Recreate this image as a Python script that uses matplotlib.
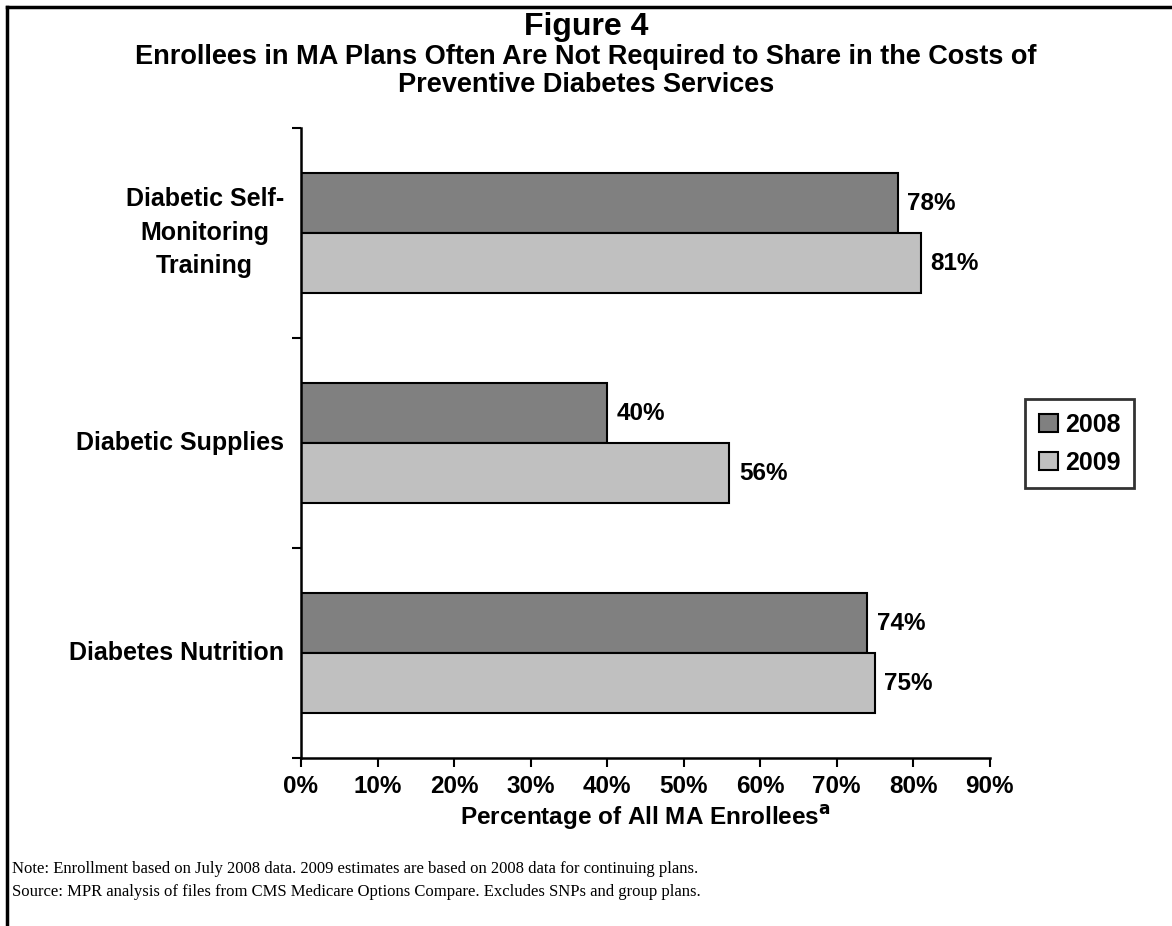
import matplotlib
matplotlib.use("Agg")
import matplotlib.pyplot as plt
from matplotlib.lines import Line2D
import numpy as np

categories = ["Diabetic Self-\nMonitoring\nTraining", "Diabetic Supplies", "Diabetes Nutrition"]
series_names = ["2008", "2009"]
values_2008 = [78, 40, 74]
values_2009 = [81, 56, 75]
xticks = [0, 10, 20, 30, 40, 50, 60, 70, 80, 90]
xtick_labels = [f"{v}%" for v in xticks]

plt.rcParams['font.family'] = ['Liberation Sans', 'DejaVu Sans']

W, H = 1172, 926
fig = plt.figure(figsize=(W / 100, H / 100), dpi=100)
ax = fig.add_axes([301 / W, 1 - 758 / H, (989.5 - 301) / W, (758 - 128) / H])

y = np.arange(len(categories))
bh = 60 / 210
b1 = ax.barh(y - bh / 2, values_2008, height=bh, color="#808080", edgecolor="black", linewidth=1.5, label=series_names[0])
b2 = ax.barh(y + bh / 2, values_2009, height=bh, color="#C0C0C0", edgecolor="black", linewidth=1.5, label=series_names[1])

for bars, vals in ((b1, values_2008), (b2, values_2009)):
    for rect, v in zip(bars, vals):
        ax.annotate(f"{v}%", xy=(v, rect.get_y() + rect.get_height() / 2), xytext=(7, 0),
                    textcoords="offset points", ha="left", va="center",
                    fontsize=17.5, fontweight="bold")

ax.set_xlim(0, 90)
ax.set_ylim(len(categories) - 0.5, -0.5)
ax.set_xticks(xticks)
ax.set_xticklabels(xtick_labels, fontsize=17.5, fontweight="bold")
ax.set_yticks(np.arange(-0.5, len(categories), 1.0))
ax.set_yticklabels([])
ax.tick_params(axis="x", direction="out", length=6.5, width=1.5, pad=6)
ax.tick_params(axis="y", direction="out", length=6.5, width=1.5)
for s in ("top", "right"):
    ax.spines[s].set_visible(False)
for s in ("left", "bottom"):
    ax.spines[s].set_linewidth(1.8)

for yi, cat in zip(y, categories):
    ax.text(-0.025, yi, cat, transform=ax.get_yaxis_transform(), ha="right", va="center",
            multialignment="center", fontsize=18, fontweight="bold", linespacing=1.5)

ax.set_xlabel("Percentage of All MA Enrollees$^{\\mathbf{a}}$", fontsize=17.5, fontweight="bold", labelpad=3)

fig.text(0.5, 1 - 27 / H, "Figure 4", ha="center", va="center", fontsize=23, fontweight="bold")
fig.text(0.5, 1 - 71 / H, "Enrollees in MA Plans Often Are Not Required to Share in the Costs of\nPreventive Diabetes Services",
         ha="center", va="center", fontsize=19.5, fontweight="bold", linespacing=1.1)

fig.text(12 / W, 1 - 869 / H, "Note: Enrollment based on July 2008 data. 2009 estimates are based on 2008 data for continuing plans.",
         ha="left", va="center", fontsize=12, family=["Liberation Serif", "DejaVu Serif"])
fig.text(12 / W, 1 - 892 / H, "Source: MPR analysis of files from CMS Medicare Options Compare. Excludes SNPs and group plans.",
         ha="left", va="center", fontsize=12, family=["Liberation Serif", "DejaVu Serif"])

leg = fig.legend(handles=[b1, b2], labels=series_names, loc="upper left",
                 bbox_to_anchor=(1025 / W, 1 - 399 / H), borderaxespad=0,
                 prop={"size": 18, "weight": "bold"}, frameon=True, fancybox=False,
                 handlelength=0.75, handleheight=0.75, handletextpad=0.3, labelspacing=0.55,
                 borderpad=0.55)
leg.get_frame().set_edgecolor("black")
leg.get_frame().set_linewidth(2)

fig.add_artist(Line2D([7 / W, 7 / W], [0, 1 - 7 / H], transform=fig.transFigure, color="black", linewidth=2.5))
fig.add_artist(Line2D([7 / W, 1], [1 - 7 / H, 1 - 7 / H], transform=fig.transFigure, color="black", linewidth=2.5))

fig.savefig("out.png", dpi=100)
